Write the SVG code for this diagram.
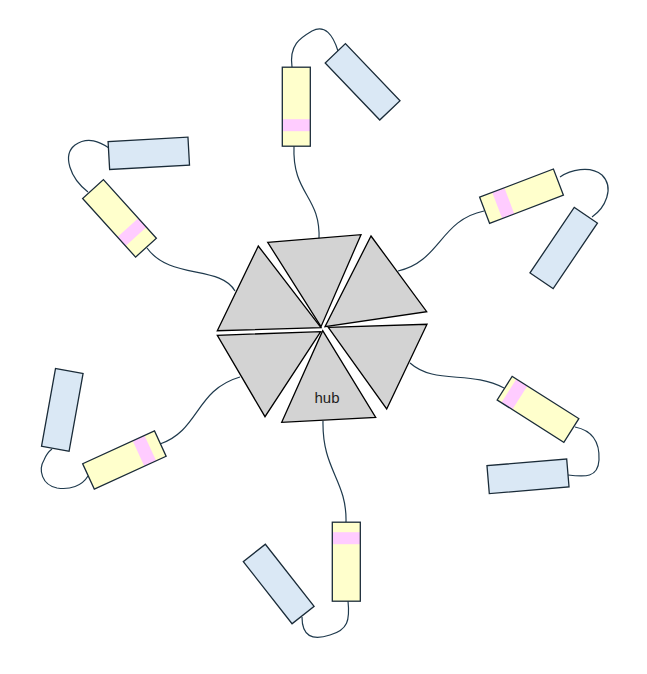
<svg xmlns="http://www.w3.org/2000/svg" width="647" height="674" viewBox="0 0 647 674">
<style>
.tri{fill:#d3d3d3;stroke:#000;stroke-width:1.3;stroke-linejoin:miter}
.y{fill:#ffffcc;stroke:none}
.p{fill:#ffccff;stroke:none}
.o{fill:none;stroke:#1a2b38;stroke-width:1.3}
.b{fill:#dae8f5;stroke:#1a2b38;stroke-width:1.3}
.c{fill:none;stroke:#1f3a4d;stroke-width:1.2}
.lbl{font-family:"Liberation Sans",Arial,sans-serif;font-size:15px;fill:#222}
</style>
<rect width="647" height="674" fill="#fff"/>
<g id="connectors">
<path class="c" d="M319 240 C321 195 292 195 294 146"/>
<path class="c" d="M398 271 C440 262 440 220 484 211"/>
<path class="c" d="M235 291 C220 265 170 280 147 248"/>
<path class="c" d="M410 363 C435 385 470 370 504 388"/>
<path class="c" d="M323 421 C322 470 347 480 346 522"/>
<path class="c" d="M240 377 C195 390 200 430 160 444"/>
<path class="c" d="M292 67 C289 45 300 38 312 31 C325 24 333 35 338 51"/>
<path class="c" d="M88 192 C70 178 62 155 75 145 C88 136 100 142 109 148"/>
<path class="c" d="M560 177 C570 170 590 165 602 175 C615 188 605 208 592 217"/>
<path class="c" d="M575 427 C590 430 600 440 599 460 C598 478 585 477 568 475"/>
<path class="c" d="M348 601 C350 620 348 630 330 635 C312 641 302 636 302 617"/>
<path class="c" d="M88 476 C82 486 70 490 57 488 C42 485 38 470 44 460 C46 455 48 452 52 449"/>
</g>
<g id="hub">
<polygon class="tri" points="267.7,242.3 361,234.7 321,326.7"/>
<polygon class="tri" points="371,236 426.7,311.7 325,326.7"/>
<polygon class="tri" points="328.3,327.3 427,324.3 386.7,409"/>
<polygon class="tri" points="322.7,330.7 375.7,417.3 281.7,422.3"/>
<polygon class="tri" points="320.7,331.7 265,416.7 217.3,335.3"/>
<polygon class="tri" points="258.3,246 217.3,330.7 321,327.7"/>
<text class="lbl" x="327" y="402.5" text-anchor="middle">hub</text>
</g>
<g id="arm-top" transform="translate(296.3,106.7)">
<rect class="y" x="-14" y="-39.5" width="28" height="79"/>
<rect class="p" x="-14" y="12.5" width="28" height="12"/>
<rect class="o" x="-14" y="-39.5" width="28" height="79"/>
</g>
<g id="dev-top"><rect class="b" x="-14" y="-39.5" width="28" height="79" transform="translate(362.6,81.8) rotate(-43.7)"/></g>
<g id="arm-upper-left" transform="translate(119.5,218.4) rotate(-42.1)">
<rect class="y" x="-14" y="-39.5" width="28" height="79"/>
<rect class="p" x="-14" y="12.5" width="28" height="12"/>
<rect class="o" x="-14" y="-39.5" width="28" height="79"/>
</g>
<g id="dev-upper-left"><rect class="b" x="-40" y="-14" width="80" height="28" transform="translate(148.8,153.3) rotate(-3.2)"/></g>
<g id="arm-top-right" transform="translate(521.5,196.2) rotate(69.1)">
<rect class="y" x="-14" y="-39.5" width="28" height="79"/>
<rect class="p" x="-14" y="13" width="28" height="13"/>
<rect class="o" x="-14" y="-39.5" width="28" height="79"/>
</g>
<g id="dev-top-right"><rect class="b" x="-14" y="-39.5" width="28" height="79" transform="translate(563.7,248) rotate(34.1)"/></g>
<g id="arm-lower-right" transform="translate(538,409.3) rotate(122.4)">
<rect class="y" x="-14" y="-39.5" width="28" height="79"/>
<rect class="p" x="-14" y="21.5" width="28" height="13"/>
<rect class="o" x="-14" y="-39.5" width="28" height="79"/>
</g>
<g id="dev-lower-right"><rect class="b" x="-40" y="-14" width="80" height="28" transform="translate(528,476.3) rotate(-4.8)"/></g>
<g id="arm-bottom" transform="translate(346.3,561.7) rotate(180)">
<rect class="y" x="-14" y="-39.5" width="28" height="79"/>
<rect class="p" x="-14" y="17.5" width="28" height="12"/>
<rect class="o" x="-14" y="-39.5" width="28" height="79"/>
</g>
<g id="dev-bottom"><rect class="b" x="-14" y="-39.5" width="28" height="79" transform="translate(278.7,584) rotate(-38.1)"/></g>
<g id="arm-lower-left" transform="translate(124.4,460) rotate(-114.6)">
<rect class="y" x="-14" y="-39.5" width="28" height="79"/>
<rect class="p" x="-14" y="15.5" width="28" height="13"/>
<rect class="o" x="-14" y="-39.5" width="28" height="79"/>
</g>
<g id="dev-lower-left"><rect class="b" x="-14" y="-39.5" width="28" height="79" transform="translate(62.3,409.8) rotate(10.2)"/></g>
</svg>
